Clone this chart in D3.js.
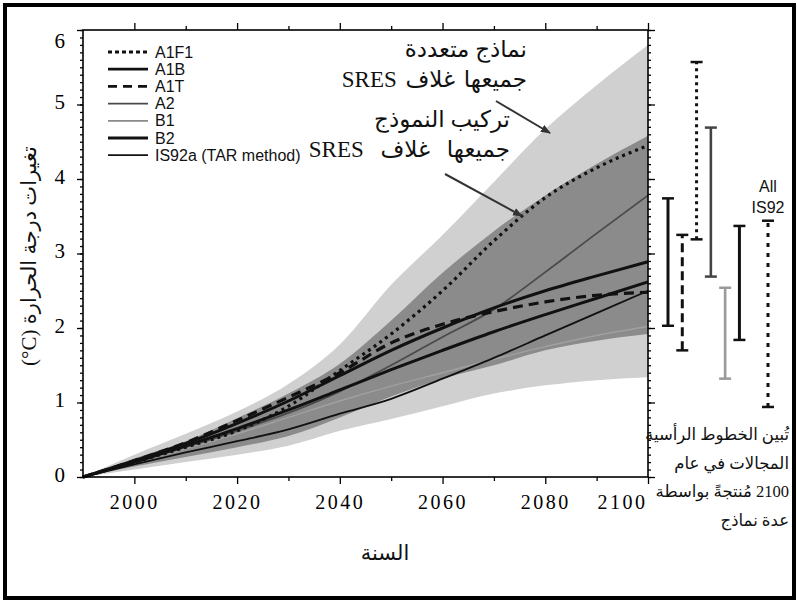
<!DOCTYPE html>
<html><head><meta charset="utf-8">
<script src="https://cdn.jsdelivr.net/npm/d3@7"></script>
<style>
html,body{margin:0;padding:0;background:#fff;}
svg{display:block;}
</style></head>
<body>
<svg id="chart" width="797" height="602"></svg>
<script>
// ---------- data ----------
const years = [1990,2000,2010,2020,2030,2040,2050,2060,2070,2080,2090,2100];
const a1fi  = [0,0.20,0.40,0.62,0.95,1.43,1.92,2.50,3.17,3.75,4.15,4.45];
const a1b   = [0,0.22,0.45,0.72,1.02,1.36,1.70,2.00,2.27,2.50,2.70,2.89];
const a1t   = [0,0.22,0.46,0.76,1.07,1.40,1.80,2.05,2.22,2.35,2.44,2.48];
const a2    = [0,0.20,0.40,0.62,0.86,1.15,1.50,1.88,2.25,2.75,3.27,3.78];
const b1    = [0,0.20,0.38,0.58,0.80,1.02,1.22,1.40,1.58,1.75,1.90,2.02];
const b2    = [0,0.20,0.42,0.65,0.90,1.17,1.44,1.70,1.95,2.18,2.40,2.62];
const is92a = [0,0.17,0.33,0.48,0.64,0.85,1.05,1.32,1.60,1.90,2.20,2.50];
// envelopes
const allModelsHigh = [0,0.30,0.58,0.88,1.25,1.78,2.58,3.25,3.96,4.67,5.26,5.80];
const allModelsLow  = [0,0.10,0.20,0.30,0.42,0.62,0.78,0.95,1.12,1.23,1.30,1.34];
const ensembleHigh  = [0,0.25,0.48,0.79,1.12,1.52,2.10,2.74,3.30,3.78,4.20,4.58];
const ensembleLow   = [0,0.14,0.27,0.40,0.55,0.80,1.08,1.32,1.50,1.70,1.83,1.92];
// 2100 ranges (bars on the right)
const barNames = ["A1B","A1T","A1FI","A2","B1","B2","IS92"];
const barLow   = [2.03,1.70,3.19,2.69,1.32,1.84,0.94];
const barHigh  = [3.74,3.25,5.57,4.69,2.54,3.37,3.44];
// legend
const legendNames = ["A1F1","A1B","A1T","A2","B1","B2","IS92a (TAR method)"];
// ticks
const xTickLabels = [2000,2020,2040,2060,2080,2100];
const xMinorTicks = [2010,2030,2050,2070,2090];
const yTickLabels = [0,1,2,3,4,5,6];
// texts
const yTitle = "تغيرات درجة الحرارة (\u200E°C)";
const xTitle = "السنة";
const note1 = ["نماذج متعددة","جميعها غلاف SRES"];
const note2 = ["تركيب النموذج","جميعها غلاف SRES"];
const note3 = ["تُبين الخطوط الرأسية","المجالات في عام","2100 مُنتجةً بواسطة","عدة نماذج"];
const allLabel = ["All","IS92"];

// ---------- styles ----------
const styles = {
  "A1F1": {stroke:"#111", w:3.2, dash:"3,4"},
  "A1B":  {stroke:"#111", w:3,   dash:null},
  "A1T":  {stroke:"#111", w:3.2, dash:"10,6"},
  "A2":   {stroke:"#4a4a4a", w:1.8, dash:null},
  "B1":   {stroke:"#a0a0a0", w:1.5, dash:null},
  "B2":   {stroke:"#111", w:3,   dash:null},
  "IS92a (TAR method)": {stroke:"#111", w:1.8, dash:null}
};
const legendDash = {"A1F1":"4,3","A1T":"9,6"};
const barStyles = {
  "A1B":  {stroke:"#111", w:3, dash:null},
  "A1T":  {stroke:"#111", w:3, dash:"9,5"},
  "A1FI": {stroke:"#111", w:3, dash:"3,4"},
  "A2":   {stroke:"#444", w:2.6, dash:null},
  "B1":   {stroke:"#9a9a9a", w:2.6, dash:null},
  "B2":   {stroke:"#111", w:3, dash:null},
  "IS92": {stroke:"#111", w:3, dash:"4,6"}
};
const serif = "Liberation Serif, DejaVu Serif, Tinos, serif";
const sans = "Liberation Sans, Arial, sans-serif";
const arab = "Liberation Serif, DejaVu Serif, DejaVu Sans, serif";

// ---------- chart ----------
const svg = d3.select("#chart");
const x = d3.scaleLinear().domain([1990,2100]).range([83,648]);
const y = d3.scaleLinear().domain([0,6]).range([477,30]);

// outer frame
svg.append("rect").attr("x",5).attr("y",5).attr("width",789).attr("height",593)
  .attr("fill","none").attr("stroke","#000").attr("stroke-width",4);

// envelopes
const area = (lo,hi) => d3.area().curve(d3.curveMonotoneX)
  .x((d,i)=>x(years[i])).y0((d,i)=>y(lo[i])).y1((d,i)=>y(hi[i]));
svg.append("path").attr("d", area(allModelsLow, allModelsHigh)(years)).attr("fill","#d0d0d0");
svg.append("path").attr("d", area(ensembleLow, ensembleHigh)(years)).attr("fill","#8b8b8b");

// series lines
const seriesData = {"A1F1":a1fi,"A1B":a1b,"A1T":a1t,"A2":a2,"B1":b1,"B2":b2,"IS92a (TAR method)":is92a};
const line = d3.line().curve(d3.curveMonotoneX).x(d=>x(d[0])).y(d=>y(d[1]));
const drawOrder = ["B1","A2","IS92a (TAR method)","B2","A1B","A1T","A1F1"];
drawOrder.forEach(name=>{
  const s = styles[name];
  svg.append("path").attr("d", line(years.map((yr,i)=>[yr, seriesData[name][i]])))
    .attr("fill","none").attr("stroke",s.stroke).attr("stroke-width",s.w)
    .attr("stroke-dasharray",s.dash).attr("stroke-linecap","butt").attr("stroke-linejoin","round");
});

// axes
const gAx = svg.append("g");
function styleAxis(g){ g.attr("font-family",serif); g.select(".domain").remove(); g.selectAll("line").attr("stroke","#000").attr("stroke-width",1.3); }
const yMinor = d3.range(0,6.001,0.1).map(v=>+v.toFixed(1));
gAx.append("g").attr("transform","translate(0,477)")
  .call(d3.axisBottom(x).tickValues(xMinorTicks).tickSize(4).tickFormat("")).call(styleAxis);
const bx = gAx.append("g").attr("transform","translate(0,477)")
  .call(d3.axisBottom(x).tickValues(xTickLabels).tickSize(7).tickPadding(11).tickFormat(d3.format("d"))).call(styleAxis);
bx.selectAll("text").attr("font-size",20).attr("letter-spacing",2.5).attr("fill","#000").style("font-family",serif);
bx.selectAll("text").filter(d=>d===2100).attr("dx",-26);
gAx.append("g").attr("transform","translate(0,30)")
  .call(d3.axisTop(x).tickValues(xMinorTicks).tickSize(4).tickFormat("")).call(styleAxis);
gAx.append("g").attr("transform","translate(0,30)")
  .call(d3.axisTop(x).tickValues(xTickLabels).tickSize(7).tickFormat("")).call(styleAxis);
gAx.append("g").attr("transform","translate(83,0)")
  .call(d3.axisLeft(y).tickValues(yMinor).tickSize(3).tickFormat("")).call(styleAxis);
const ly = gAx.append("g").attr("transform","translate(83,0)")
  .call(d3.axisLeft(y).tickValues(yTickLabels).tickSize(6).tickPadding(12).tickFormat(d3.format("d"))).call(styleAxis);
ly.selectAll("text").attr("font-size",21).attr("fill","#000").style("font-family",serif).attr("dy","0.2em");
ly.selectAll("text").filter(d=>d===6).attr("dy","0.85em");
gAx.append("g").attr("transform","translate(648,0)")
  .call(d3.axisRight(y).tickValues(yMinor).tickSize(3).tickFormat("")).call(styleAxis);
gAx.append("g").attr("transform","translate(648,0)")
  .call(d3.axisRight(y).tickValues(yTickLabels).tickSize(7).tickFormat("")).call(styleAxis);
// plot frame
svg.append("rect").attr("x",x(1990)).attr("y",y(6)).attr("width",x(2100)-x(1990)).attr("height",y(0)-y(6))
  .attr("fill","none").attr("stroke","#000").attr("stroke-width",1.6);

// legend
const lg = svg.append("g");
legendNames.forEach((name,i)=>{
  const s = styles[name];
  const yy = 52 + i*17.2;
  lg.append("line").attr("x1",108).attr("x2",148).attr("y1",yy).attr("y2",yy)
    .attr("stroke",name==="B1"?"#8a8a8a":s.stroke).attr("stroke-width",name==="A2"||name==="B1"||name.startsWith("IS")?1.8:2.8)
    .attr("stroke-dasharray",legendDash[name]||null);
  lg.append("text").attr("x",155).attr("y",yy+5.5).text(name)
    .style("font-family",sans).attr("font-size",16).attr("fill","#111");
});

// bars on the right
const xb = d3.scalePoint().domain(["A1B","A1T","A1FI","A2","B1","B2","gap","IS92"]).range([668,768]);
barNames.forEach((name,i)=>{
  const s = barStyles[name], cx = xb(name);
  const g = svg.append("g");
  g.append("line").attr("x1",cx).attr("x2",cx).attr("y1",y(barLow[i])).attr("y2",y(barHigh[i]))
    .attr("stroke",s.stroke).attr("stroke-width",s.w).attr("stroke-dasharray",s.dash);
  [barLow[i],barHigh[i]].forEach(v=>{
    g.append("line").attr("x1",cx-6).attr("x2",cx+6).attr("y1",y(v)).attr("y2",y(v))
      .attr("stroke",s.stroke).attr("stroke-width",2.5);
  });
});
svg.append("g").selectAll("text").data(allLabel).join("text")
  .attr("x",xb("IS92")).attr("y",(d,i)=>y(barHigh[6]) - 29 + i*21)
  .attr("text-anchor","middle").style("font-family",sans).attr("font-size",16).attr("fill","#111").text(d=>d);

// annotations
function rtlLines(lines, xr, y0, dy, size, spacing){
  lines.forEach((t,i)=>{
    const el = svg.append("text").attr("x",xr).attr("y",y0+i*dy).attr("direction","rtl")
      .attr("text-anchor","start").style("font-family",arab).attr("font-size",size).attr("fill","#111").text(t);
    if(spacing && spacing[i]) el.attr("word-spacing",spacing[i]);
  });
}
rtlLines(note1, 527, 57, 30, 23, [null,3]);
rtlLines(note2, 510, 127, 30, 23, [null,11]);
rtlLines(note3, 789, 440, 28.5, 16.5, null);

// arrows
svg.append("defs").append("marker").attr("id","ah").attr("viewBox","0 0 10 10").attr("refX",9).attr("refY",5)
  .attr("markerWidth",5).attr("markerHeight",5).attr("orient","auto")
  .append("path").attr("d","M0,1 L10,5 L0,9 Z").attr("fill","#333");
[[[496,101],[550,133]],[[445,174],[522,216]]].forEach(a=>{
  svg.append("line").attr("x1",a[0][0]).attr("y1",a[0][1]).attr("x2",a[1][0]).attr("y2",a[1][1])
    .attr("stroke","#333").attr("stroke-width",2).attr("marker-end","url(#ah)");
});

// axis titles
svg.append("text").attr("transform","translate(36,256) rotate(-90)").attr("direction","rtl")
  .attr("text-anchor","middle").style("font-family",arab).attr("font-size",21).attr("fill","#111").text(yTitle);
svg.append("text").attr("x",385).attr("y",560).attr("direction","rtl")
  .attr("text-anchor","middle").style("font-family",arab).attr("font-size",21).attr("fill","#111").text(xTitle);
</script>
</body></html>
